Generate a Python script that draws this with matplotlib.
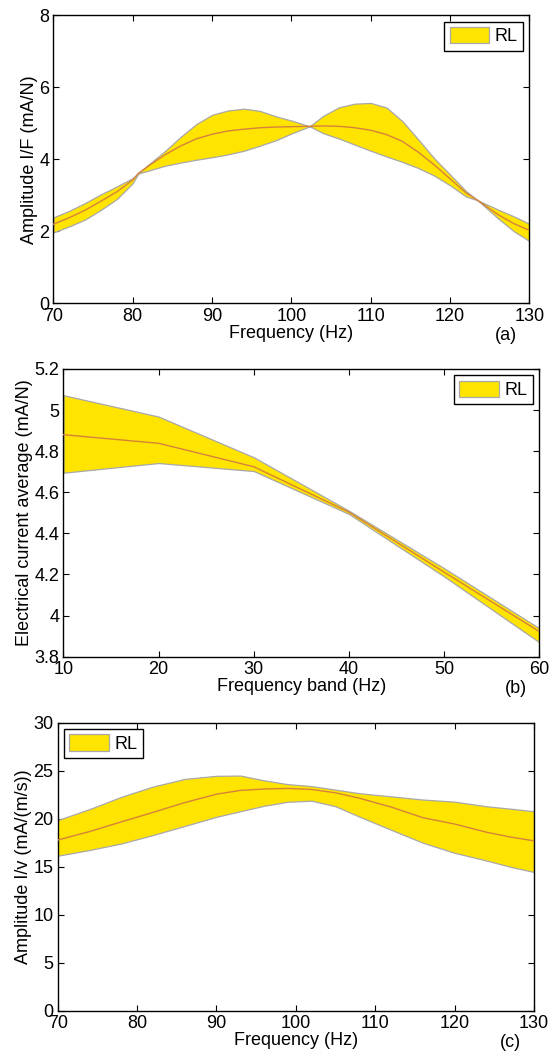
import matplotlib
matplotlib.use("Agg")
import matplotlib.pyplot as plt
from matplotlib.ticker import FormatStrFormatter

plt.rcParams['font.family'] = ['Liberation Sans', 'DejaVu Sans']
plt.rcParams['font.size'] = 13

# (a) amplitud I/F
freq_a = [70, 72, 74, 76, 78, 80, 80.7, 82, 84, 86, 88, 90, 92, 94, 96, 98, 100,
          102.3, 104, 106, 108, 110, 112, 114, 116, 118, 120, 122, 123.5, 126, 128, 130]
upper_a = [2.39, 2.57, 2.79, 3.03, 3.25, 3.48, 3.61, 3.86, 4.22, 4.62, 4.98, 5.24, 5.36, 5.41, 5.35, 5.20, 5.08,
           4.92, 5.21, 5.45, 5.55, 5.57, 5.44, 5.06, 4.55, 4.03, 3.58, 3.12, 2.86, 2.61, 2.42, 2.21]
mean_a = [2.20, 2.38, 2.59, 2.84, 3.10, 3.43, 3.61, 3.82, 4.12, 4.37, 4.57, 4.70, 4.79, 4.84, 4.88, 4.90, 4.91,
          4.92, 4.93, 4.92, 4.88, 4.81, 4.69, 4.50, 4.20, 3.85, 3.46, 3.07, 2.86, 2.47, 2.22, 2.03]
lower_a = [1.97, 2.14, 2.33, 2.60, 2.90, 3.34, 3.61, 3.69, 3.82, 3.91, 3.99, 4.06, 4.14, 4.24, 4.38, 4.53, 4.72,
           4.92, 4.73, 4.58, 4.41, 4.24, 4.08, 3.93, 3.76, 3.55, 3.28, 2.97, 2.86, 2.37, 2.01, 1.73]

# (b) promedio de corriente por banda
band_b = [10, 20, 30, 40, 50, 60]
upper_b = [5.072, 4.968, 4.770, 4.510, 4.230, 3.938]
mean_b = [4.880, 4.838, 4.724, 4.503, 4.211, 3.922]
lower_b = [4.695, 4.742, 4.703, 4.494, 4.190, 3.870]

# (c) amplitud I/v
freq_c = [70, 74, 78, 82, 86, 90, 93, 96, 99, 102, 105, 108, 112, 116, 120, 124, 127, 130]
upper_c = [19.86, 21.0, 22.28, 23.35, 24.15, 24.47, 24.5, 24.0, 23.6, 23.4, 23.03, 22.66, 22.33, 22.0,
           21.78, 21.3, 21.05, 20.78]
mean_c = [17.78, 18.66, 19.67, 20.66, 21.68, 22.56, 22.95, 23.1, 23.16, 23.05, 22.7, 22.14, 21.22, 20.11,
          19.45, 18.6, 18.1, 17.7]
lower_c = [16.15, 16.74, 17.42, 18.3, 19.25, 20.2, 20.78, 21.35, 21.77, 21.88, 21.3, 20.22, 18.85, 17.5,
           16.45, 15.65, 15.0, 14.45]

FILL = '#FFE400'
EDGE = '#A8A8A8'
LINE = '#D7823A'

fig = plt.figure(figsize=(5.51, 10.61), dpi=100)

def panel(rect, x, up, mid, lo, xlim, ylim, xticks, yticks, xlabel, ylabel, tag, legloc):
    ax = fig.add_axes(rect)
    ax.fill_between(x, lo, up, facecolor=FILL, edgecolor=EDGE, linewidth=0.9, label='RL', zorder=2)
    ax.plot(x, mid, color=LINE, linewidth=1.0, zorder=3)
    ax.set_xlim(xlim)
    ax.set_ylim(ylim)
    ax.set_xticks(xticks)
    ax.set_yticks(yticks)
    ax.yaxis.set_major_formatter(FormatStrFormatter('%g'))
    ax.tick_params(direction='in', length=4, width=0.8, top=True, right=True, pad=3, labelsize=13)
    for s in ax.spines.values():
        s.set_linewidth(1.0)
    ax.set_xlabel(xlabel, labelpad=0)
    ax.set_ylabel(ylabel, labelpad=1)
    ax.text(0.95, -0.112, tag, transform=ax.transAxes, ha='center', va='center', fontsize=13)
    leg = ax.legend(loc=legloc, fancybox=False, framealpha=1, edgecolor='black',
                    handlelength=2.2, handleheight=1.0, handletextpad=0.3,
                    borderpad=0.3, borderaxespad=0.35)
    leg.get_frame().set_linewidth(1.0)
    return ax

panel([0.0969, 0.7141, 0.8640, 0.2713], freq_a, upper_a, mean_a, lower_a,
      (70, 130), (0, 8), range(70, 131, 10), range(0, 9, 2),
      'Frequency (Hz)', 'Amplitude I/F (mA/N)', '(a)', 'upper right')

panel([0.1152, 0.3811, 0.8637, 0.2712], band_b, upper_b, mean_b, lower_b,
      (10, 60), (3.8, 5.2), range(10, 61, 10), [3.8, 4.0, 4.2, 4.4, 4.6, 4.8, 5.0, 5.2],
      'Frequency band (Hz)', 'Electrical current average (mA/N)', '(b)', 'upper right')

panel([0.1047, 0.0474, 0.8644, 0.2714], freq_c, upper_c, mean_c, lower_c,
      (70, 130), (0, 30), range(70, 131, 10), range(0, 31, 5),
      'Frequency (Hz)', 'Amplitude I/v (mA/(m/s))', '(c)', 'upper left')

fig.savefig('out.png', dpi=100)
